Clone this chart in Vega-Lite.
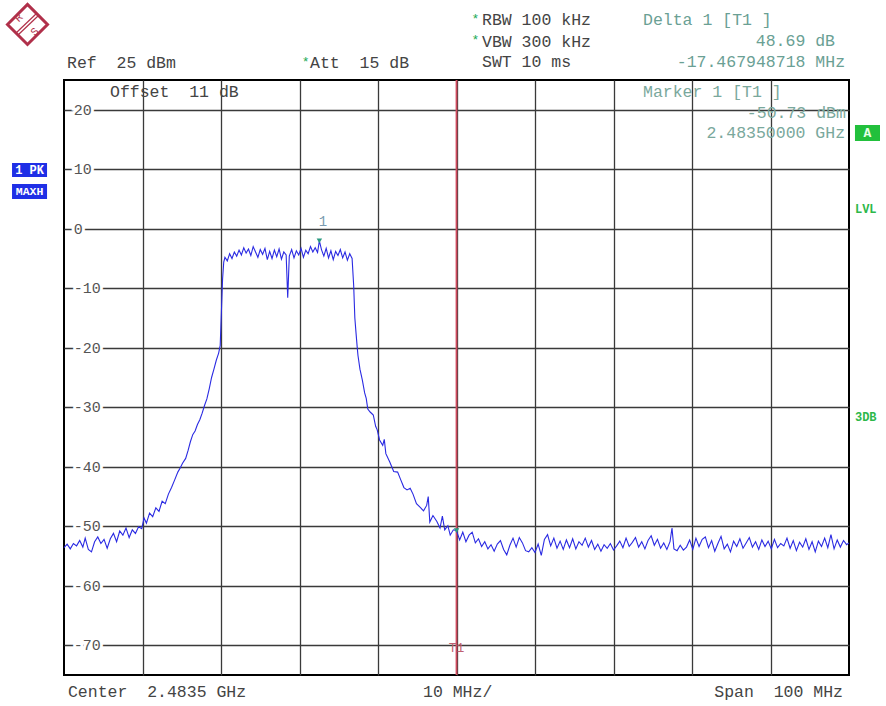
{
  "$schema": "https://vega.github.io/schema/vega-lite/v6.json",
  "width": 785,
  "height": 595,
  "autosize": {"type": "none"},
  "padding": {"left": 64, "top": 80, "right": 37, "bottom": 31},
  "background": "white",
  "datasets": {
    "trace": [
      {"freq": 2433.5, "level": -53.6}, {"freq": 2433.9, "level": -53.0}, {"freq": 2434.3, "level": -53.8}, {"freq": 2434.7, "level": -52.9},
      {"freq": 2435.1, "level": -53.3}, {"freq": 2435.5, "level": -52.4}, {"freq": 2435.9, "level": -53.5}, {"freq": 2436.2, "level": -52.0},
      {"freq": 2436.6, "level": -53.9}, {"freq": 2437.0, "level": -54.3}, {"freq": 2437.4, "level": -52.6}, {"freq": 2437.8, "level": -51.8},
      {"freq": 2438.2, "level": -52.9}, {"freq": 2438.6, "level": -52.2}, {"freq": 2439.0, "level": -53.7}, {"freq": 2439.4, "level": -52.1},
      {"freq": 2439.8, "level": -51.2}, {"freq": 2440.2, "level": -52.6}, {"freq": 2440.6, "level": -50.8}, {"freq": 2441.0, "level": -51.5},
      {"freq": 2441.4, "level": -50.3}, {"freq": 2441.8, "level": -51.9}, {"freq": 2442.2, "level": -50.6}, {"freq": 2442.6, "level": -51.2},
      {"freq": 2443.0, "level": -50.1}, {"freq": 2443.4, "level": -50.4}, {"freq": 2443.7, "level": -48.6}, {"freq": 2444.0, "level": -49.5},
      {"freq": 2444.4, "level": -47.8}, {"freq": 2444.8, "level": -48.4}, {"freq": 2445.2, "level": -46.9}, {"freq": 2445.6, "level": -47.5},
      {"freq": 2446.0, "level": -45.8}, {"freq": 2446.4, "level": -46.2}, {"freq": 2446.8, "level": -44.6}, {"freq": 2447.2, "level": -43.5},
      {"freq": 2447.6, "level": -42.2}, {"freq": 2448.0, "level": -40.9}, {"freq": 2448.3, "level": -40.2}, {"freq": 2448.6, "level": -39.4},
      {"freq": 2449.0, "level": -38.6}, {"freq": 2449.3, "level": -37.3}, {"freq": 2449.6, "level": -35.8}, {"freq": 2449.9, "level": -34.6},
      {"freq": 2450.2, "level": -34.0}, {"freq": 2450.5, "level": -32.9}, {"freq": 2450.8, "level": -32.1}, {"freq": 2451.1, "level": -31.0},
      {"freq": 2451.4, "level": -29.7}, {"freq": 2451.7, "level": -28.6}, {"freq": 2452.0, "level": -26.9}, {"freq": 2452.3, "level": -25.0},
      {"freq": 2452.6, "level": -23.6}, {"freq": 2452.9, "level": -22.1}, {"freq": 2453.2, "level": -20.9}, {"freq": 2453.4, "level": -19.6},
      {"freq": 2453.55, "level": -14.0}, {"freq": 2453.7, "level": -8.5}, {"freq": 2453.85, "level": -5.6},
      {"freq": 2454.0, "level": -4.8}, {"freq": 2454.3, "level": -5.4}, {"freq": 2454.6, "level": -4.2}, {"freq": 2454.9, "level": -5.0},
      {"freq": 2455.2, "level": -3.9}, {"freq": 2455.5, "level": -4.6}, {"freq": 2455.8, "level": -3.6}, {"freq": 2456.1, "level": -4.4},
      {"freq": 2456.4, "level": -3.2}, {"freq": 2456.7, "level": -4.1}, {"freq": 2457.0, "level": -3.4}, {"freq": 2457.3, "level": -4.5},
      {"freq": 2457.6, "level": -3.0}, {"freq": 2457.9, "level": -3.9}, {"freq": 2458.2, "level": -4.8}, {"freq": 2458.5, "level": -3.5},
      {"freq": 2458.8, "level": -4.3}, {"freq": 2459.1, "level": -3.3}, {"freq": 2459.4, "level": -5.2}, {"freq": 2459.7, "level": -3.8},
      {"freq": 2460.0, "level": -5.0}, {"freq": 2460.3, "level": -3.6}, {"freq": 2460.6, "level": -4.7}, {"freq": 2460.9, "level": -3.4},
      {"freq": 2461.2, "level": -5.1}, {"freq": 2461.5, "level": -3.9}, {"freq": 2461.8, "level": -4.4}, {"freq": 2462.0, "level": -11.6},
      {"freq": 2462.2, "level": -4.6}, {"freq": 2462.5, "level": -3.5}, {"freq": 2462.8, "level": -4.9}, {"freq": 2463.1, "level": -3.7},
      {"freq": 2463.4, "level": -4.4}, {"freq": 2463.7, "level": -3.3}, {"freq": 2464.0, "level": -4.8}, {"freq": 2464.3, "level": -3.6},
      {"freq": 2464.6, "level": -4.2}, {"freq": 2464.9, "level": -3.0}, {"freq": 2465.2, "level": -3.9}, {"freq": 2465.5, "level": -3.2},
      {"freq": 2465.8, "level": -4.0}, {"freq": 2466.03, "level": -2.04}, {"freq": 2466.3, "level": -3.5}, {"freq": 2466.6, "level": -4.6},
      {"freq": 2466.9, "level": -3.3}, {"freq": 2467.2, "level": -4.9}, {"freq": 2467.5, "level": -3.7}, {"freq": 2467.8, "level": -5.2},
      {"freq": 2468.1, "level": -3.8}, {"freq": 2468.4, "level": -4.5}, {"freq": 2468.7, "level": -3.5}, {"freq": 2469.0, "level": -4.9},
      {"freq": 2469.3, "level": -3.9}, {"freq": 2469.6, "level": -5.3}, {"freq": 2469.9, "level": -4.2}, {"freq": 2470.2, "level": -5.0},
      {"freq": 2470.4, "level": -9.5}, {"freq": 2470.55, "level": -15.0}, {"freq": 2470.7, "level": -17.5}, {"freq": 2470.85, "level": -19.9},
      {"freq": 2470.95, "level": -21.3}, {"freq": 2471.2, "level": -23.6}, {"freq": 2471.5, "level": -25.4}, {"freq": 2471.8, "level": -27.6},
      {"freq": 2472.0, "level": -28.5}, {"freq": 2472.2, "level": -30.3}, {"freq": 2472.5, "level": -30.8}, {"freq": 2472.9, "level": -31.3},
      {"freq": 2473.2, "level": -33.2}, {"freq": 2473.4, "level": -33.8}, {"freq": 2473.7, "level": -35.5}, {"freq": 2474.1, "level": -36.4},
      {"freq": 2474.3, "level": -35.4}, {"freq": 2474.5, "level": -37.8}, {"freq": 2475.0, "level": -39.2}, {"freq": 2475.5, "level": -40.8},
      {"freq": 2476.0, "level": -40.9}, {"freq": 2476.4, "level": -42.2}, {"freq": 2476.8, "level": -43.5}, {"freq": 2477.2, "level": -43.9},
      {"freq": 2477.6, "level": -43.6}, {"freq": 2477.96, "level": -44.6}, {"freq": 2478.4, "level": -46.2}, {"freq": 2478.85, "level": -46.8},
      {"freq": 2479.3, "level": -47.4}, {"freq": 2479.7, "level": -46.5}, {"freq": 2479.9, "level": -45.0}, {"freq": 2480.1, "level": -49.3},
      {"freq": 2480.5, "level": -48.2}, {"freq": 2481.0, "level": -49.2}, {"freq": 2481.4, "level": -50.3}, {"freq": 2481.7, "level": -48.3},
      {"freq": 2482.0, "level": -50.6}, {"freq": 2482.4, "level": -49.9}, {"freq": 2482.7, "level": -51.5}, {"freq": 2483.1, "level": -50.6},
      {"freq": 2483.5, "level": -50.73}, {"freq": 2483.9, "level": -52.3}, {"freq": 2484.3, "level": -51.0}, {"freq": 2484.7, "level": -52.6},
      {"freq": 2485.1, "level": -51.5}, {"freq": 2485.5, "level": -51.0}, {"freq": 2485.9, "level": -52.8},
      {"freq": 2486.3, "level": -52.1}, {"freq": 2486.7, "level": -53.4}, {"freq": 2487.1, "level": -52.6}, {"freq": 2487.5, "level": -53.8},
      {"freq": 2487.9, "level": -53.1}, {"freq": 2488.3, "level": -54.2}, {"freq": 2488.7, "level": -53.0}, {"freq": 2489.1, "level": -52.4},
      {"freq": 2489.5, "level": -53.9}, {"freq": 2489.9, "level": -54.8}, {"freq": 2490.3, "level": -53.2}, {"freq": 2490.7, "level": -52.0},
      {"freq": 2491.1, "level": -53.5}, {"freq": 2491.5, "level": -51.9}, {"freq": 2491.9, "level": -52.8}, {"freq": 2492.3, "level": -54.1},
      {"freq": 2492.7, "level": -54.3}, {"freq": 2493.1, "level": -53.6}, {"freq": 2493.5, "level": -54.4}, {"freq": 2493.9, "level": -53.0},
      {"freq": 2494.3, "level": -54.9}, {"freq": 2494.7, "level": -52.2}, {"freq": 2495.1, "level": -51.4}, {"freq": 2495.5, "level": -53.3},
      {"freq": 2495.9, "level": -52.0}, {"freq": 2496.3, "level": -53.7}, {"freq": 2496.7, "level": -52.5}, {"freq": 2497.1, "level": -53.9},
      {"freq": 2497.5, "level": -52.3}, {"freq": 2497.9, "level": -53.6}, {"freq": 2498.3, "level": -52.1}, {"freq": 2498.7, "level": -53.8},
      {"freq": 2499.1, "level": -52.6}, {"freq": 2499.5, "level": -53.2}, {"freq": 2499.9, "level": -52.0}, {"freq": 2500.3, "level": -53.5},
      {"freq": 2500.7, "level": -52.4}, {"freq": 2501.1, "level": -53.9}, {"freq": 2501.5, "level": -53.0}, {"freq": 2501.9, "level": -54.2},
      {"freq": 2502.3, "level": -53.1}, {"freq": 2502.7, "level": -53.7}, {"freq": 2503.1, "level": -52.9}, {"freq": 2503.5, "level": -54.0},
      {"freq": 2503.9, "level": -53.3}, {"freq": 2504.3, "level": -52.5}, {"freq": 2504.7, "level": -53.6}, {"freq": 2505.1, "level": -52.0},
      {"freq": 2505.5, "level": -53.4}, {"freq": 2505.9, "level": -52.7}, {"freq": 2506.3, "level": -51.9}, {"freq": 2506.7, "level": -53.5},
      {"freq": 2507.1, "level": -52.6}, {"freq": 2507.5, "level": -53.8}, {"freq": 2507.9, "level": -52.4}, {"freq": 2508.3, "level": -51.6},
      {"freq": 2508.7, "level": -53.2}, {"freq": 2509.1, "level": -52.2}, {"freq": 2509.5, "level": -53.7}, {"freq": 2509.9, "level": -52.8},
      {"freq": 2510.3, "level": -53.9}, {"freq": 2510.7, "level": -52.6}, {"freq": 2510.95, "level": -50.3}, {"freq": 2511.2, "level": -53.8},
      {"freq": 2511.6, "level": -54.1}, {"freq": 2512.0, "level": -53.2}, {"freq": 2512.4, "level": -54.0}, {"freq": 2512.8, "level": -53.5},
      {"freq": 2513.2, "level": -52.3}, {"freq": 2513.6, "level": -53.9}, {"freq": 2514.0, "level": -52.0}, {"freq": 2514.4, "level": -53.4},
      {"freq": 2514.8, "level": -52.2}, {"freq": 2515.2, "level": -51.8}, {"freq": 2515.6, "level": -53.6}, {"freq": 2516.0, "level": -52.4},
      {"freq": 2516.4, "level": -54.2}, {"freq": 2516.8, "level": -52.9}, {"freq": 2517.2, "level": -51.7}, {"freq": 2517.6, "level": -53.8},
      {"freq": 2518.0, "level": -53.0}, {"freq": 2518.4, "level": -54.3}, {"freq": 2518.8, "level": -52.5}, {"freq": 2519.2, "level": -53.4},
      {"freq": 2519.6, "level": -52.1}, {"freq": 2520.0, "level": -53.7}, {"freq": 2520.4, "level": -52.8}, {"freq": 2520.8, "level": -51.9},
      {"freq": 2521.2, "level": -53.5}, {"freq": 2521.6, "level": -52.6}, {"freq": 2522.0, "level": -53.9}, {"freq": 2522.4, "level": -52.3},
      {"freq": 2522.8, "level": -53.4}, {"freq": 2523.2, "level": -52.5}, {"freq": 2523.6, "level": -53.8}, {"freq": 2524.0, "level": -52.2},
      {"freq": 2524.4, "level": -53.6}, {"freq": 2524.8, "level": -52.9}, {"freq": 2525.2, "level": -53.3}, {"freq": 2525.6, "level": -52.0},
      {"freq": 2526.0, "level": -53.7}, {"freq": 2526.4, "level": -52.4}, {"freq": 2526.8, "level": -54.1}, {"freq": 2527.2, "level": -52.7},
      {"freq": 2527.6, "level": -53.5}, {"freq": 2528.0, "level": -52.1}, {"freq": 2528.4, "level": -53.9}, {"freq": 2528.8, "level": -52.6},
      {"freq": 2529.2, "level": -54.3}, {"freq": 2529.6, "level": -52.5}, {"freq": 2530.0, "level": -53.4}, {"freq": 2530.4, "level": -52.0},
      {"freq": 2530.8, "level": -53.6}, {"freq": 2531.2, "level": -51.4}, {"freq": 2531.6, "level": -53.8}, {"freq": 2532.0, "level": -52.3},
      {"freq": 2532.4, "level": -53.5}, {"freq": 2532.8, "level": -52.4}, {"freq": 2533.2, "level": -53.1}, {"freq": 2533.5, "level": -52.8}
    ],
    "ylabels": [
      {"level": 20, "label": "20"}, {"level": 10, "label": "10"}, {"level": 0, "label": "0"}, {"level": -10, "label": "-10"},
      {"level": -20, "label": "-20"}, {"level": -30, "label": "-30"}, {"level": -40, "label": "-40"}, {"level": -50, "label": "-50"},
      {"level": -60, "label": "-60"}, {"level": -70, "label": "-70"}
    ],
    "markers": [
      {"freq": 2466.03, "level": -2.04, "name": "Delta 1"},
      {"freq": 2483.5, "level": -50.73, "name": "Marker 1"}
    ],
    "one": [{}]
  },
  "config": {
    "view": {"stroke": "#000000", "strokeWidth": 2},
    "axis": {"labels": false, "ticks": false, "domain": false, "grid": true, "gridColor": "#3a3a3a", "gridWidth": 1.3, "gridOpacity": 1, "titleOpacity": 0},
    "text": {"font": "Liberation Mono"}
  },
  "layer": [
    {
      "data": {"name": "trace"},
      "mark": {"type": "line", "opacity": 0},
      "encoding": {
        "x": {"field": "freq", "type": "quantitative", "scale": {"domain": [2433.5, 2533.5], "nice": false, "zero": false},
              "axis": {"values": [2443.5, 2453.5, 2463.5, 2473.5, 2483.5, 2493.5, 2503.5, 2513.5, 2523.5], "title": null}},
        "y": {"field": "level", "type": "quantitative", "scale": {"domain": [-75, 25], "nice": false, "zero": false},
              "axis": {"values": [20, 10, 0, -10, -20, -30, -40, -50, -60, -70], "title": null}}
      }
    },
    {
      "data": {"name": "ylabels"},
      "mark": {"type": "text", "align": "left", "baseline": "middle", "fontSize": 15, "fill": "white", "stroke": "white", "strokeWidth": 6},
      "encoding": {"x": {"datum": 2434.75}, "y": {"field": "level", "type": "quantitative"}, "text": {"field": "label"}}
    },
    {
      "data": {"name": "ylabels"},
      "mark": {"type": "text", "align": "left", "baseline": "middle", "fontSize": 15, "fill": "#555555"},
      "encoding": {"x": {"datum": 2434.75}, "y": {"field": "level", "type": "quantitative"}, "text": {"field": "label"}}
    },
    {
      "data": {"name": "one"},
      "mark": {"type": "rule", "color": "#d04a5e", "strokeWidth": 1.8},
      "encoding": {"x": {"datum": 2483.5}}
    },
    {
      "data": {"name": "trace"},
      "mark": {"type": "line", "color": "#2a2ae2", "strokeWidth": 1.1},
      "encoding": {"x": {"field": "freq", "type": "quantitative"}, "y": {"field": "level", "type": "quantitative"}}
    },
    {
      "data": {"name": "markers"},
      "mark": {"type": "point", "shape": "triangle-down", "size": 30, "filled": true, "color": "#2a9a80", "opacity": 1},
      "encoding": {"x": {"field": "freq", "type": "quantitative"}, "y": {"field": "level", "type": "quantitative"}}
    },
    {
      "data": {"name": "one"},
      "mark": {"type": "text", "text": "1", "align": "center", "baseline": "alphabetic", "fontSize": 14, "fill": "#7a9ab0"},
      "encoding": {"x": {"datum": 2466.5}, "y": {"datum": 0.5}}
    },
    {
      "data": {"name": "one"},
      "mark": {"type": "text", "text": "T1", "align": "left", "baseline": "alphabetic", "fontSize": 13, "fill": "#c06070"},
      "encoding": {"x": {"datum": 2482.5}, "y": {"datum": -71.1}}
    },
    {
      "data": {"name": "one"},
      "mark": {"type": "text", "text": "Ref\u00a0\u00a025 dBm", "align": "left", "baseline": "alphabetic", "fontSize": 16.5, "fill": "#444444"},
      "encoding": {"x": {"datum": 2433.88}, "y": {"datum": 27.0}}
    },
    {
      "data": {"name": "one"},
      "mark": {"type": "text", "text": "*", "align": "left", "baseline": "alphabetic", "fontSize": 13, "fill": "#22aa55"},
      "encoding": {"x": {"datum": 2463.8}, "y": {"datum": 27.4}}
    },
    {
      "data": {"name": "one"},
      "mark": {"type": "text", "text": "Att\u00a0\u00a015 dB", "align": "left", "baseline": "alphabetic", "fontSize": 16.5, "fill": "#444444"},
      "encoding": {"x": {"datum": 2464.84}, "y": {"datum": 27.0}}
    },
    {
      "data": {"name": "one"},
      "mark": {"type": "text", "text": "*", "align": "left", "baseline": "alphabetic", "fontSize": 13, "fill": "#22aa55"},
      "encoding": {"x": {"datum": 2485.4}, "y": {"datum": 34.6}}
    },
    {
      "data": {"name": "one"},
      "mark": {"type": "text", "text": "RBW 100 kHz", "align": "left", "baseline": "alphabetic", "fontSize": 16.5, "fill": "#444444"},
      "encoding": {"x": {"datum": 2486.75}, "y": {"datum": 34.24}}
    },
    {
      "data": {"name": "one"},
      "mark": {"type": "text", "text": "*", "align": "left", "baseline": "alphabetic", "fontSize": 13, "fill": "#22aa55"},
      "encoding": {"x": {"datum": 2485.4}, "y": {"datum": 31.0}}
    },
    {
      "data": {"name": "one"},
      "mark": {"type": "text", "text": "VBW 300 kHz", "align": "left", "baseline": "alphabetic", "fontSize": 16.5, "fill": "#444444"},
      "encoding": {"x": {"datum": 2486.75}, "y": {"datum": 30.6}}
    },
    {
      "data": {"name": "one"},
      "mark": {"type": "text", "text": "SWT 10 ms", "align": "left", "baseline": "alphabetic", "fontSize": 16.5, "fill": "#444444"},
      "encoding": {"x": {"datum": 2486.75}, "y": {"datum": 27.18}}
    },
    {
      "data": {"name": "one"},
      "mark": {"type": "text", "text": "Delta 1 [T1 ]", "align": "left", "baseline": "alphabetic", "fontSize": 16.5, "fill": "#6aa094"},
      "encoding": {"x": {"datum": 2507.26}, "y": {"datum": 34.24}}
    },
    {
      "data": {"name": "one"},
      "mark": {"type": "text", "text": "48.69 dB", "align": "right", "baseline": "alphabetic", "fontSize": 16.5, "fill": "#6aa094"},
      "encoding": {"x": {"datum": 2531.72}, "y": {"datum": 30.7}}
    },
    {
      "data": {"name": "one"},
      "mark": {"type": "text", "text": "-17.467948718 MHz", "align": "right", "baseline": "alphabetic", "fontSize": 16.5, "fill": "#6aa094"},
      "encoding": {"x": {"datum": 2533.0}, "y": {"datum": 27.18}}
    },
    {
      "data": {"name": "one"},
      "mark": {"type": "text", "text": "Marker 1 [T1 ]", "align": "left", "baseline": "alphabetic", "fontSize": 16.5, "fill": "#7aa89c"},
      "encoding": {"x": {"datum": 2507.26}, "y": {"datum": 22.14}}
    },
    {
      "data": {"name": "one"},
      "mark": {"type": "text", "text": "-50.73 dBm", "align": "right", "baseline": "alphabetic", "fontSize": 16.5, "fill": "#7aa89c"},
      "encoding": {"x": {"datum": 2533.1}, "y": {"datum": 18.6}}
    },
    {
      "data": {"name": "one"},
      "mark": {"type": "text", "text": "2.48350000 GHz", "align": "right", "baseline": "alphabetic", "fontSize": 16.5, "fill": "#7aa89c"},
      "encoding": {"x": {"datum": 2533.0}, "y": {"datum": 15.25}}
    },
    {
      "data": {"name": "one"},
      "mark": {"type": "text", "text": "Offset\u00a0\u00a011 dB", "align": "left", "baseline": "alphabetic", "fontSize": 16.5, "fill": "#444444"},
      "encoding": {"x": {"datum": 2439.36}, "y": {"datum": 22.14}}
    },
    {
      "data": {"name": "one"},
      "mark": {"type": "text", "text": "Center\u00a0\u00a02.4835 GHz", "align": "left", "baseline": "alphabetic", "fontSize": 16.5, "fill": "#444444"},
      "encoding": {"x": {"datum": 2434.0}, "y": {"datum": -78.7}}
    },
    {
      "data": {"name": "one"},
      "mark": {"type": "text", "text": "10 MHz/", "align": "left", "baseline": "alphabetic", "fontSize": 16.5, "fill": "#444444"},
      "encoding": {"x": {"datum": 2479.23}, "y": {"datum": -78.7}}
    },
    {
      "data": {"name": "one"},
      "mark": {"type": "text", "text": "Span\u00a0\u00a0100 MHz", "align": "right", "baseline": "alphabetic", "fontSize": 16.5, "fill": "#444444"},
      "encoding": {"x": {"datum": 2532.74}, "y": {"datum": -78.7}}
    },
    {
      "data": {"name": "one"},
      "mark": {"type": "rect", "fill": "#1f2fe6"},
      "encoding": {"x": {"datum": 2426.88}, "x2": {"datum": 2431.34}, "y": {"datum": 11.05}, "y2": {"datum": 8.7}}
    },
    {
      "data": {"name": "one"},
      "mark": {"type": "rect", "fill": "#1f2fe6"},
      "encoding": {"x": {"datum": 2426.88}, "x2": {"datum": 2431.34}, "y": {"datum": 7.52}, "y2": {"datum": 5.0}}
    },
    {
      "data": {"name": "one"},
      "mark": {"type": "text", "text": "1 PK", "align": "center", "baseline": "middle", "fontSize": 12, "fontWeight": "bold", "fill": "white"},
      "encoding": {"x": {"datum": 2429.11}, "y": {"datum": 9.87}}
    },
    {
      "data": {"name": "one"},
      "mark": {"type": "text", "text": "MAXH", "align": "center", "baseline": "middle", "fontSize": 11.5, "fontWeight": "bold", "fill": "white"},
      "encoding": {"x": {"datum": 2429.11}, "y": {"datum": 6.26}}
    },
    {
      "data": {"name": "one"},
      "mark": {"type": "rect", "fill": "#22c03c"},
      "encoding": {"x": {"datum": 2534.26}, "x2": {"datum": 2537.45}, "y": {"datum": 17.44}, "y2": {"datum": 14.75}}
    },
    {
      "data": {"name": "one"},
      "mark": {"type": "text", "text": "A", "align": "center", "baseline": "middle", "fontSize": 13, "fontWeight": "bold", "fill": "#e8ffe8"},
      "encoding": {"x": {"datum": 2535.86}, "y": {"datum": 16.1}}
    },
    {
      "data": {"name": "one"},
      "mark": {"type": "text", "text": "LVL", "align": "left", "baseline": "alphabetic", "fontSize": 12, "fontWeight": "bold", "fill": "#2db84a"},
      "encoding": {"x": {"datum": 2534.26}, "y": {"datum": 2.65}}
    },
    {
      "data": {"name": "one"},
      "mark": {"type": "text", "text": "3DB", "align": "left", "baseline": "alphabetic", "fontSize": 12, "fontWeight": "bold", "fill": "#2db84a"},
      "encoding": {"x": {"datum": 2534.26}, "y": {"datum": -32.31}}
    },
    {
      "data": {"name": "one"},
      "mark": {"type": "point", "shape": "diamond", "size": 1600, "filled": false, "stroke": "#b0304a", "strokeWidth": 3, "opacity": 1},
      "encoding": {"x": {"datum": 2428.85}, "y": {"datum": 34.33}}
    },
    {
      "data": {"name": "one"},
      "mark": {"type": "rule", "color": "#b0304a", "strokeWidth": 1.2},
      "encoding": {"x": {"datum": 2427.39}, "y": {"datum": 32.9}, "x2": {"datum": 2430.06}, "y2": {"datum": 36.26}}
    },
    {
      "data": {"name": "one"},
      "mark": {"type": "rule", "color": "#b0304a", "strokeWidth": 1.2},
      "encoding": {"x": {"datum": 2427.64}, "y": {"datum": 32.56}, "x2": {"datum": 2430.32}, "y2": {"datum": 35.92}}
    },
    {
      "data": {"name": "one"},
      "mark": {"type": "text", "text": "R", "align": "center", "baseline": "middle", "fontSize": 11, "angle": 315, "fill": "#b0304a"},
      "encoding": {"x": {"datum": 2427.77}, "y": {"datum": 35.42}}
    },
    {
      "data": {"name": "one"},
      "mark": {"type": "text", "text": "S", "align": "center", "baseline": "middle", "fontSize": 11, "angle": 315, "fill": "#b0304a"},
      "encoding": {"x": {"datum": 2429.81}, "y": {"datum": 33.07}}
    }
  ]
}
